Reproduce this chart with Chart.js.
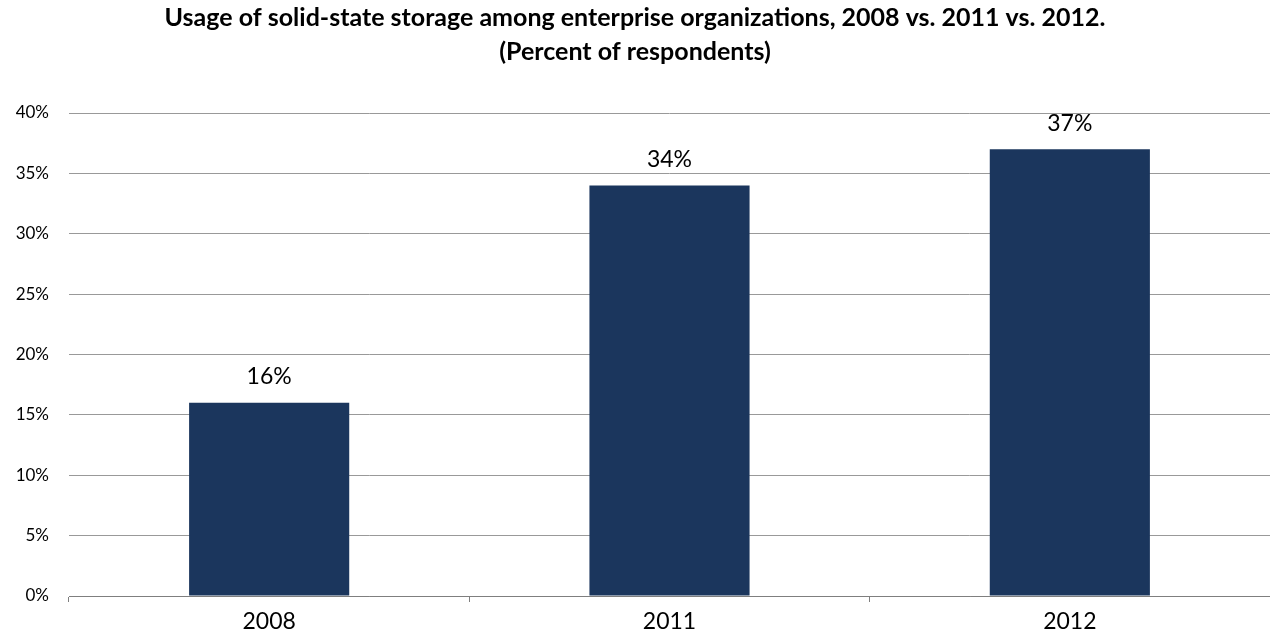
<!DOCTYPE html>
<html>
<head>
<meta charset="utf-8">
<script src="https://cdn.jsdelivr.net/npm/chart.js@4"></script>
<style>
  html, body { margin: 0; padding: 0; background: #fff; }
  #wrap { width: 1270px; height: 643px; }
</style>
</head>
<body>
<div id="wrap"><canvas id="storageChart" width="1270" height="643"></canvas></div>
<script>
// Survey years
const years = ['2008', '2011', '2012'];

// Percent of respondents using solid-state storage
const usagePercent = [16, 34, 37];

// Y axis range / steps
const yMin = 0;
const yMax = 40;
const yStep = 5;

const chartTitle = [
    'Usage of solid-state storage among enterprise organizations, 2008 vs. 2011 vs. 2012.',
    '(Percent of respondents)'
];

const fontFamily = 'Lato, "Open Sans", sans-serif';

// Small plugin to write value labels above the bars
const valueLabels = {
    id: 'valueLabels',
    afterDatasetsDraw(chart) {
        const ctx = chart.ctx;
        const meta = chart.getDatasetMeta(0);
        ctx.save();
        ctx.fillStyle = '#000';
        ctx.font = '23px ' + fontFamily;
        ctx.textAlign = 'center';
        ctx.textBaseline = 'middle';
        meta.data.forEach((bar, i) => {
            ctx.fillText(usagePercent[i] + '%', bar.x, bar.y - 26);
        });
        ctx.restore();
    }
};

const ctx = document.getElementById('storageChart').getContext('2d');
new Chart(ctx, {
    type: 'bar',
    data: {
        labels: years,
        datasets: [{
            data: usagePercent,
            backgroundColor: '#1b365d',
            borderWidth: 0,
            categoryPercentage: 0.4,
            barPercentage: 1.0
        }]
    },
    options: {
        responsive: false,
        animation: false,
        layout: { padding: { left: 0, right: 0, top: 0, bottom: 0 } },
        plugins: {
            legend: { display: false },
            tooltip: { enabled: false },
            title: {
                display: true,
                text: chartTitle,
                color: '#000',
                font: { family: fontFamily, size: 25, weight: 'bold', lineHeight: 1.36 },
                padding: { top: 1, bottom: 44 }
            }
        },
        scales: {
            x: {
                grid: {
                    offset: true,
                    drawOnChartArea: false,
                    drawTicks: true,
                    tickLength: 6,
                    color: '#7f7f7f'
                },
                border: { display: true, color: '#7f7f7f', width: 1 },
                ticks: {
                    color: '#000',
                    font: { family: fontFamily, size: 23 },
                    padding: 6
                },
                afterFit(scale) { scale.height = 47; }
            },
            y: {
                min: yMin,
                max: yMax,
                ticks: {
                    stepSize: yStep,
                    color: '#000',
                    font: { family: fontFamily, size: 17 },
                    padding: 20,
                    callback: v => v + '%'
                },
                grid: {
                    color: '#999999',
                    drawTicks: false
                },
                border: { display: false },
                afterFit(scale) { scale.width = 69; }
            }
        }
    },
    plugins: [valueLabels]
});
</script>
</body>
</html>
